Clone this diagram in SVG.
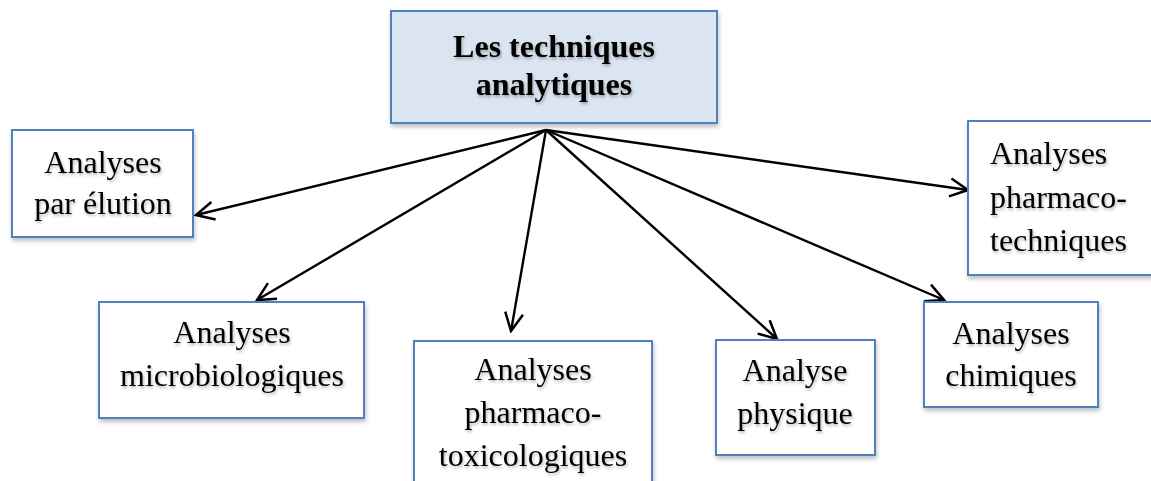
<svg xmlns="http://www.w3.org/2000/svg" width="1151" height="481" viewBox="0 0 1151 481">
  <defs>
    <style>
      .box { fill: #ffffff; stroke: #4f81bd; stroke-width: 2; filter: url(#boxShadow); }
      .root { fill: #dbe5f1; }
      .lbl { font-family: "Liberation Serif", "Times New Roman", serif; font-size: 32px; fill: #000; text-anchor: middle; filter: url(#txtShadow); }
      .bold { font-weight: bold; }
      .left { text-anchor: start; }
      .link { stroke: #000; stroke-width: 2.4; fill: none; marker-end: url(#vee); }
    </style>
    <filter id="boxShadow" x="-10%" y="-10%" width="120%" height="130%">
      <feDropShadow dx="1" dy="3" stdDeviation="2" flood-color="#000" flood-opacity="0.25"/>
    </filter>
    <filter id="txtShadow" x="-10%" y="-20%" width="120%" height="150%">
      <feDropShadow dx="1" dy="2" stdDeviation="1.5" flood-color="#000" flood-opacity="0.3"/>
    </filter>
    <marker id="vee" viewBox="0 0 22 22" refX="20" refY="11" markerWidth="22" markerHeight="22" markerUnits="userSpaceOnUse" orient="auto">
      <path d="M2,2 L20,11 L2,20" fill="none" stroke="#000" stroke-width="2.5" stroke-linejoin="miter"/>
    </marker>
  </defs>

  <g id="connectors">
    <line class="link" x1="546" y1="130" x2="196" y2="215"/>
    <line class="link" x1="546" y1="130" x2="257" y2="300"/>
    <line class="link" x1="546" y1="130" x2="511" y2="331"/>
    <line class="link" x1="546" y1="130" x2="777" y2="339"/>
    <line class="link" x1="546" y1="130" x2="944" y2="300"/>
    <line class="link" x1="546" y1="130" x2="968" y2="190"/>
  </g>

  <g id="root">
    <rect class="box root" x="391" y="11" width="326" height="112"/>
    <text class="lbl bold" x="554" y="57">Les techniques</text>
    <text class="lbl bold" x="554" y="95">analytiques</text>
  </g>

  <g id="elution">
    <rect class="box" x="12" y="130" width="181" height="107"/>
    <text class="lbl" x="103" y="173">Analyses</text>
    <text class="lbl" x="103" y="214">par élution</text>
  </g>

  <g id="pharmacotechniques">
    <rect class="box" x="968" y="121" width="190" height="154"/>
    <text class="lbl left" x="990" y="164">Analyses</text>
    <text class="lbl left" x="990" y="208">pharmaco-</text>
    <text class="lbl left" x="990" y="251">techniques</text>
  </g>

  <g id="microbiologiques">
    <rect class="box" x="99" y="302" width="265" height="116"/>
    <text class="lbl" x="232" y="343">Analyses</text>
    <text class="lbl" x="232" y="386">microbiologiques</text>
  </g>

  <g id="pharmacotoxicologiques">
    <rect class="box" x="414" y="341" width="238" height="150"/>
    <text class="lbl" x="533" y="380">Analyses</text>
    <text class="lbl" x="533" y="423">pharmaco-</text>
    <text class="lbl" x="533" y="466">toxicologiques</text>
  </g>

  <g id="physique">
    <rect class="box" x="716" y="340" width="159" height="115"/>
    <text class="lbl" x="795" y="381">Analyse</text>
    <text class="lbl" x="795" y="424">physique</text>
  </g>

  <g id="chimiques">
    <rect class="box" x="924" y="302" width="174" height="105"/>
    <text class="lbl" x="1011" y="344">Analyses</text>
    <text class="lbl" x="1011" y="386">chimiques</text>
  </g>
</svg>
